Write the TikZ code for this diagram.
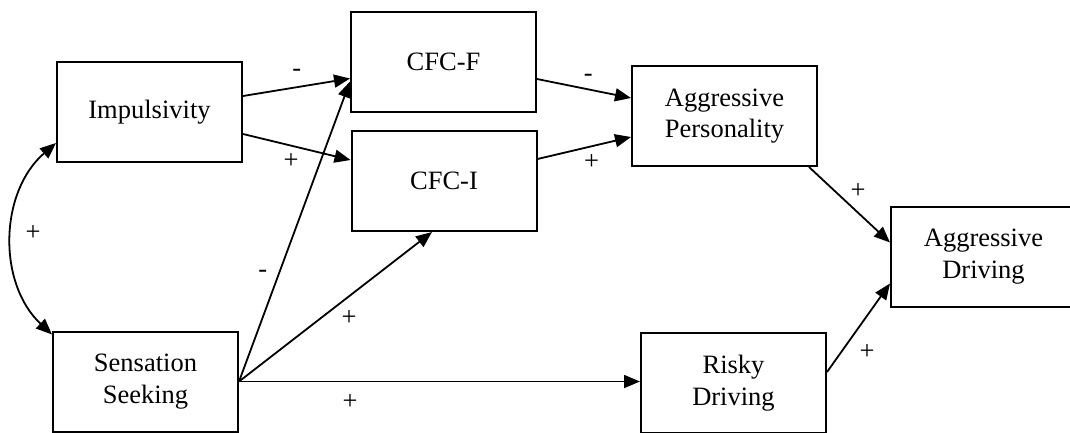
\documentclass[tikz,border=0pt]{standalone}
\usepackage{fontspec}
\setmainfont{Liberation Serif}
\usetikzlibrary{arrows.meta,calc}
\begin{document}
\begin{tikzpicture}[x=1pt,y=-1pt,
  box/.style={draw, line width=2pt, minimum width=185pt, minimum height=100pt,
    inner sep=0pt, align=center, font=\fontsize{26.5}{31.7}\selectfont},
  tip/.style={Triangle[length=16pt,width=13pt]},
  link/.style={line width=1.8pt, -{Triangle[length=16pt,width=13pt]}},
  sign/.style={font=\fontsize{26.5}{31.7}\selectfont, inner sep=0pt}]
\useasboundingbox (0,0) rectangle (1070,432);
\clip (0,0) rectangle (1070,432);

% constructs
\node[box] (imp)  at (149.5,112)   {Impulsivity};
\node[box] (cfcf) at (443.5,61.5)  {CFC-F};
\node[box] (cfci) at (444,181)     {CFC-I};
\node[box] (ap)   at (724.5,116)   {Aggressive\\Personality};
\node[box] (ad)   at (983.5,256.5) {Aggressive\\Driving};
\node[box] (ss)   at (145.5,381.5) {Sensation\\Seeking};
\node[box] (rd)   at (733.5,383)   {Risky\\Driving};

% paths
\draw[link] ([yshift=16pt]imp.east) -- ([yshift=-17pt]cfcf.west);
\draw[link] ([yshift=-22pt]imp.east) -- ([yshift=21pt]cfci.west);
\draw[link] (ss.east) -- ([yshift=-20pt]cfcf.west);
\draw[link] (ss.east) -- ([xshift=-12pt]cfci.south);
\draw[link] (ss.east) -- (ss.east -| rd.west);
\draw[link] ([yshift=-17.5pt]cfcf.east) -- ([yshift=18pt]ap.west);
\draw[link] ([yshift=22pt]cfci.east) -- ([yshift=-21pt]ap.west);
\draw[link] ([xshift=-9pt]ap.south east) -- ([yshift=-37pt]ad.north west);
\draw[link] ([yshift=11pt]rd.east) -- ([yshift=-78pt]ad.north west);

% correlation between the two traits
\draw[line width=1.8pt, {Triangle[length=16pt,width=13pt]}-{Triangle[length=16pt,width=13pt]}]
  ([yshift=20pt]imp.south west) to[bend right=48] ([yshift=-4pt]ss.north west);

% signs of the paths
\node[sign] (s1)  at (296.7,72.6)  {-};
\node[sign] (s2)  at (291,161)     {+};
\node[sign] (s3)  at (588.3,77.6)  {-};
\node[sign] (s4)  at (591.5,162)   {+};
\node[sign] (s5)  at (858,191)     {+};
\node[sign] (s6)  at (33,233)      {+};
\node[sign] (s7)  at (262.7,273.6) {-};
\node[sign] (s8)  at (349,318)     {+};
\node[sign] (s9)  at (350,402)     {+};
\node[sign] (s10) at (867,352)     {+};
\end{tikzpicture}
\end{document}
